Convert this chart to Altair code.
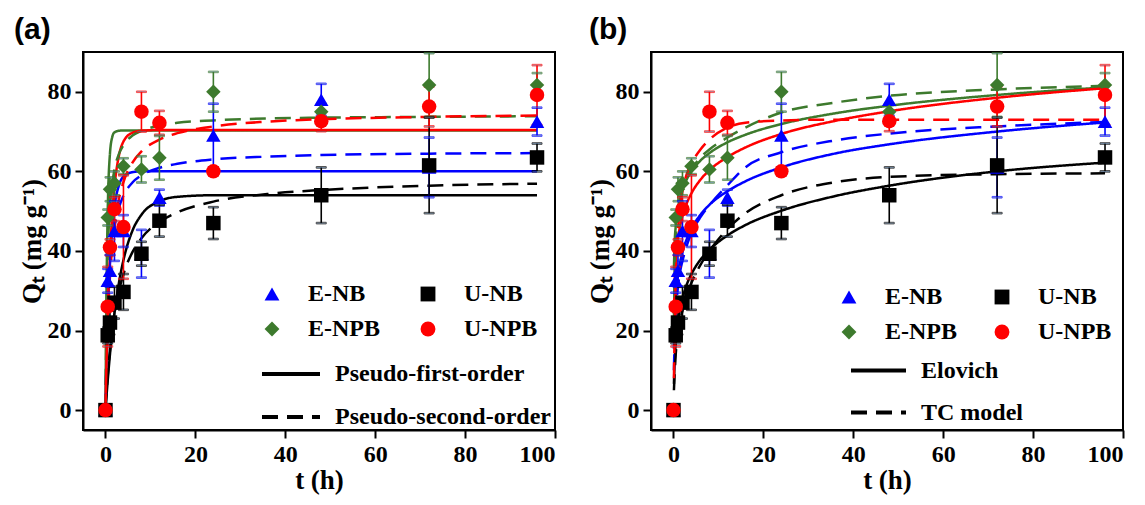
import altair as alt
import pandas as pd

# ---------------- data ----------------
# legend entries are laid out column by column: E-NB, E-NPB | U-NB, U-NPB
SAMPLES = ["E-NB", "E-NPB", "U-NB", "U-NPB"]
COLORS = ["#0000FF", "#3D7A2D", "#000000", "#FF0000"]
SHAPES = ["triangle-up", "diamond", "square", "circle"]
# same colours, listed in another order for the line/error-bar scale
LINE_SAMPLES = ["E-NB", "U-NB", "E-NPB", "U-NPB"]
LINE_COLORS = ["#0000FF", "#000000", "#3D7A2D", "#FF0000"]

T_PTS = [0, 0.5, 1, 2, 4, 8, 12, 24, 48, 72, 96]
ENB_Q = [0, 32.5, 35, 45, 45, 39.3, 53.4, 69, 78, 61, 72.5]
ENB_E = [0, 3, 4, 7.5, 4, 6, 2, 8, 4, 7.5, 3.5]
UNB_Q = [0, 18.8, 22, 27, 29.7, 39.3, 47.6, 47, 54, 61.5, 63.5]
UNB_E = [0, 2, 3, 4, 4.5, 3, 4, 4, 7, 12, 3.5]
ENPB_Q = [0, 48.4, 55.5, 57, 61.3, 60.5, 63.4, 80, 75, 81.7, 81.7]
ENPB_E = [0, 2, 3, 3, 2, 3.3, 5.5, 5, 2, 8, 3]
UNPB_Q = [0, 26, 40.9, 50.5, 46, 75, 72.2, 60, 72.6, 76.3, 79.2]
UNPB_E = [0, 10, 2, 3, 13, 5, 3, 1, 2.5, 5, 7.5]

# fitted curves, panel (a)
T_FIT_A = [0, 0.25, 0.5, 1, 1.5, 2, 3, 4, 6, 8, 12, 16, 24, 36, 48, 72, 96]
PFO_ENB = [0, 12.7, 22.7, 36.8, 45.3, 51.0, 56.5, 58.7, 59.8, 60.0, 60.0, 60.0, 60.0, 60.0, 60.0, 60.0, 60.0]
PFO_UNB = [0, 3.9, 7.5, 14.0, 19.6, 24.4, 32.0, 37.7, 45.1, 49.1, 52.5, 53.6, 54.0, 54.0, 54.0, 54.0, 54.0]
PFO_ENPB = [0, 32, 50, 64.5, 68.6, 69.8, 70.2, 70.3, 70.3, 70.3, 70.3, 70.3, 70.3, 70.3, 70.3, 70.3, 70.3]
PFO_UNPB = [0, 12.9, 23.2, 38.7, 49.2, 56.1, 64.0, 67.5, 69.7, 70.2, 70.4, 70.4, 70.4, 70.4, 70.4, 70.4, 70.4]
PSO_ENB = [0, 14.9, 24.3, 35.4, 41.8, 45.9, 50.9, 53.9, 57.2, 59.0, 60.9, 61.9, 63.0, 63.7, 64.1, 64.45, 64.6]
PSO_UNB = [0, 4.7, 8.7, 15.2, 20.2, 24.1, 30.0, 34.2, 39.7, 43.2, 47.3, 49.7, 52.4, 54.3, 55.3, 56.4, 56.9]
PSO_ENPB = [0, 26.3, 38.9, 51.0, 56.9, 60.5, 64.4, 66.6, 69.0, 70.2, 71.5, 72.2, 72.8, 73.3, 73.5, 73.7, 73.85]
PSO_UNPB = [0, 12.6, 21.6, 33.6, 41.1, 46.4, 53.1, 57.3, 62.2, 65.0, 68.0, 69.6, 71.3, 72.5, 73.1, 73.7, 74.05]

# fitted curves, panel (b)
T_FIT_B = [0.1, 0.25, 0.5, 1, 1.5, 2, 3, 4, 6, 8, 12, 16, 24, 36, 48, 72, 96]
ELO_ENB = [15.4, 22.4, 28.0, 33.8, 37.2, 39.7, 43.1, 45.6, 49.1, 51.6, 55.0, 57.5, 61.0, 64.5, 66.8, 70.0, 72.3]
ELO_UNB = [6.6, 11.8, 16.8, 22.3, 25.7, 28.1, 31.7, 34.2, 37.8, 40.3, 43.9, 46.5, 50.1, 53.8, 56.4, 60.0, 62.2]
ELO_ENPB = [35.6, 41.7, 46.2, 50.8, 53.5, 55.4, 58.1, 60.0, 62.7, 64.6, 67.3, 69.2, 71.9, 74.6, 76.5, 79.2, 81.1]
ELO_UNPB = [24.3, 31.7, 37.3, 43.1, 46.4, 48.8, 52.1, 54.5, 57.9, 60.3, 63.6, 66.0, 69.4, 72.7, 75.1, 78.5, 80.9]
TC_ENB = [10, 17, 24, 31, 35, 37.5, 41.5, 44.5, 48.5, 51.5, 56.5, 61.0, 64.8, 67.8, 69.5, 71.3, 72.4]
TC_UNB = [5, 9, 14, 19, 22.5, 25, 29, 32, 36.5, 40, 45.5, 49.5, 54, 57.3, 58.6, 59.3, 59.5]
TC_ENPB = [22, 35, 43, 50, 53.5, 55.5, 58.5, 60.5, 63.5, 65.5, 68.5, 71.0, 74.8, 77.3, 79.0, 80.6, 81.5]
TC_UNPB = [8, 19, 32, 45, 51.5, 55, 59.5, 62.0, 65.5, 68.0, 71.0, 72.2, 72.8, 73.0, 73.0, 73.0, 73.0]

X_TICKS = [0, 20, 40, 60, 80, 100]
Y_TICKS = [0, 20, 40, 60, 80]

# ---------------- tables ----------------
NAMES = ["E-NB", "U-NB", "E-NPB", "U-NPB"]
pts_rows = []
for s, q, e in zip(NAMES, [ENB_Q, UNB_Q, ENPB_Q, UNPB_Q], [ENB_E, UNB_E, ENPB_E, UNPB_E]):
    for t, v, er in zip(T_PTS, q, e):
        pts_rows.append({"sample": s, "series": s, "t": t, "q": v, "lo": v - er, "hi": v + er})
pts = pd.DataFrame(pts_rows)


def fit_table(tgrid, model_a, series_a, model_b, series_b):
    rows = []
    for model, series in [(model_a, series_a), (model_b, series_b)]:
        for s, vals in zip(NAMES, series):
            for t, v in zip(tgrid, vals):
                rows.append({"series": s, "model": model, "t": t, "q": v})
    return pd.DataFrame(rows)


fit_a = fit_table(T_FIT_A, "Pseudo-first-order", [PFO_ENB, PFO_UNB, PFO_ENPB, PFO_UNPB],
                  "Pseudo-second-order", [PSO_ENB, PSO_UNB, PSO_ENPB, PSO_UNPB])
fit_b = fit_table(T_FIT_B, "Elovich", [ELO_ENB, ELO_UNB, ELO_ENPB, ELO_UNPB],
                  "TC model", [TC_ENB, TC_UNB, TC_ENPB, TC_UNPB])

SERIF = "Liberation Serif"
W, H = 472, 378


def panel(fit, models, label, label_dx, leg1, leg2):
    xs = alt.X("t:Q", title="t (h)",
               scale=alt.Scale(domain=[-5, 100], nice=False, zero=False),
               axis=alt.Axis(values=X_TICKS, format="d"))
    ys = alt.Y("q:Q", title="Qₜ (mg g⁻¹)",
               scale=alt.Scale(domain=[-5, 90], nice=False, zero=False),
               axis=alt.Axis(values=Y_TICKS, format="d"))
    stroke_enc = alt.Stroke("series:N", scale=alt.Scale(domain=LINE_SAMPLES, range=LINE_COLORS),
                            legend=None)

    lines = alt.Chart(fit).mark_line(strokeWidth=2.5, interpolate="monotone").encode(
        x=xs, y=ys,
        stroke=stroke_enc,
        strokeDash=alt.StrokeDash(
            "model:N",
            scale=alt.Scale(domain=models, range=[[1, 0], [16, 9]]),
            legend=alt.Legend(title=None, orient="none", legendX=leg2[0], legendY=leg2[1],
                              symbolType="stroke", symbolSize=leg2[2], symbolStrokeWidth=4,
                              symbolStrokeColor="black", labelFont=SERIF, labelFontSize=24,
                              labelFontWeight="bold", labelColor="black", labelOffset=13,
                              rowPadding=leg2[3], labelLimit=400)),
        detail="series:N",
    )
    bars = alt.Chart(pts).mark_rule(strokeWidth=1.6).encode(
        x="t:Q", y="lo:Q", y2="hi:Q", stroke=stroke_enc)
    cap_lo = alt.Chart(pts).mark_tick(orient="horizontal", size=10, thickness=1.6).encode(
        x="t:Q", y="lo:Q", stroke=stroke_enc)
    cap_hi = alt.Chart(pts).mark_tick(orient="horizontal", size=10, thickness=1.6).encode(
        x="t:Q", y="hi:Q", stroke=stroke_enc)
    leg = alt.Legend(title=None, orient="none", legendX=leg1[0], legendY=leg1[1],
                     columns=2, columnPadding=leg1[2], rowPadding=11, symbolSize=220,
                     labelFont=SERIF, labelFontSize=24, labelFontWeight="bold",
                     labelColor="black", labelOffset=24, labelLimit=300)
    points = alt.Chart(pts).mark_point(filled=True, size=210, opacity=1).encode(
        x="t:Q", y="q:Q",
        color=alt.Color("sample:N", scale=alt.Scale(domain=SAMPLES, range=COLORS), legend=leg),
        shape=alt.Shape("sample:N", scale=alt.Scale(domain=SAMPLES, range=SHAPES), legend=leg))
    return alt.layer(lines, bars, cap_lo, cap_hi, points).properties(
        width=W, height=H,
        title=alt.TitleParams(label, anchor="start", frame="group", font="Liberation Sans",
                              fontSize=30, fontWeight="bold", color="black", dx=label_dx, offset=7),
    )


pa = panel(fit_a, ["Pseudo-first-order", "Pseudo-second-order"], "(a)", -69,
           (177, 230, 36), (177, 291, 3364, 0))
pb = panel(fit_b, ["Elovich", "TC model"], "(b)", -62,
           (186, 233, 33), (198, 289, 3025, 0))

chart = alt.hconcat(pa, pb, spacing=28).resolve_scale(
    color="independent", shape="independent", strokeDash="independent", stroke="independent"
).configure_view(stroke="black", strokeWidth=2).configure_axis(
    grid=False, domainColor="black", domainWidth=2, tickColor="black", tickWidth=2, tickSize=8,
    labelFont=SERIF, labelFontSize=24, labelFontWeight="bold", labelColor="black", labelPadding=4,
    titleFont=SERIF, titleFontSize=27, titleFontWeight="bold", titleColor="black", titlePadding=1,
)

chart.save("out.html", embed_options={"renderer": "svg", "actions": False})
